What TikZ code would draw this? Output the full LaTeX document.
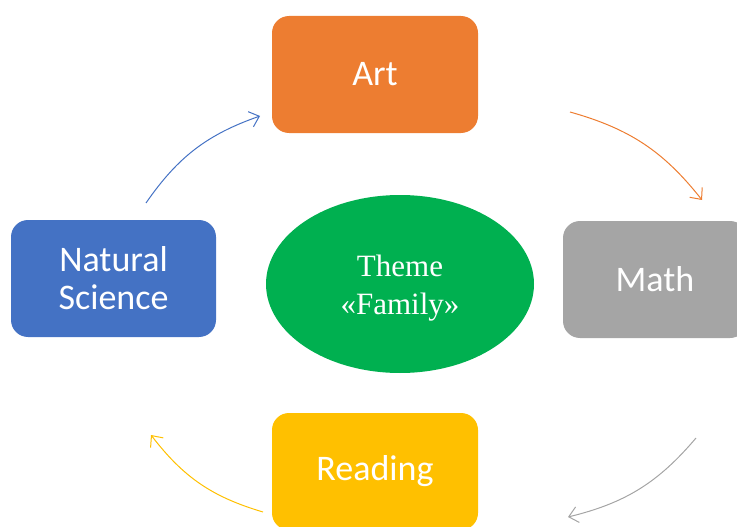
\documentclass[tikz,border=0pt]{standalone}
\usepackage{fontspec}
\setmainfont{Liberation Serif}
\newfontfamily\boxfont{Carlito}
\usepackage{xcolor}
\usepackage{tikz}
\usetikzlibrary{arrows.meta}
\usetikzlibrary{shapes.geometric}
\definecolor{ArtOrange}{HTML}{ED7D31}
\definecolor{SciBlue}{HTML}{4472C4}
\definecolor{MathGray}{HTML}{A5A5A5}
\definecolor{ReadGold}{HTML}{FFC000}
\definecolor{ThemeGreen}{HTML}{00B050}

\tikzset{
  subject/.style = {rounded corners = 17pt, minimum width = 206pt, minimum height = 117pt,
    text = white, align = center, font = \boxfont\fontsize{36}{40}\selectfont},
  cycle/.style = {line width = 1pt, -{Straight Barb[length=9pt, width=16pt]}}
}

\begin{document}
\begin{tikzpicture}[x = 1pt, y = -1pt]
  \useasboundingbox (0,0) rectangle (737,527);

  % subjects
\begin{scope}
    \clip (0,0) rectangle (737,527);
    \node[subject, fill = ArtOrange] (art) at (375,74.5) {Art};
    \node[subject, fill = SciBlue, minimum width = 205pt] (science) at (113.5,278.5) {Natural\\[-2pt]Science};
    \node[subject, fill = MathGray, minimum width = 184pt] (math) at (655,279.5) {Math};
    \node[subject, fill = ReadGold] (reading) at (375,471.5) {Reading};
\end{scope}

  % theme
    \node[ellipse, fill = ThemeGreen, minimum width = 268pt, minimum height = 178pt] (theme) at (400,284) {};
    \node[text = white, align = center, font = \fontsize{31}{38}\selectfont] (theme-text) at (400,288) {Theme\\«Family»};

  % cycle arrows
    \coordinate (science-out) at (146,203);
    \coordinate (art-in) at (260,116);
    \coordinate (art-out) at (570,112);
    \coordinate (math-in) at (702,200);
    \coordinate (math-out) at (696,438);
    \coordinate (reading-in) at (568,517);
    \coordinate (reading-out) at (263,512);
    \coordinate (science-in) at (151,435);

    \draw[cycle, draw = SciBlue] (science-out) to[bend left = 18] (art-in);
    \draw[cycle, draw = ArtOrange] (art-out) to[bend left = 18] (math-in);
    \draw[cycle, draw = MathGray] (math-out) to[bend left = 18] (reading-in);
    \draw[cycle, draw = ReadGold] (reading-out) to[bend left = 18] (science-in);

\end{tikzpicture}
\end{document}
